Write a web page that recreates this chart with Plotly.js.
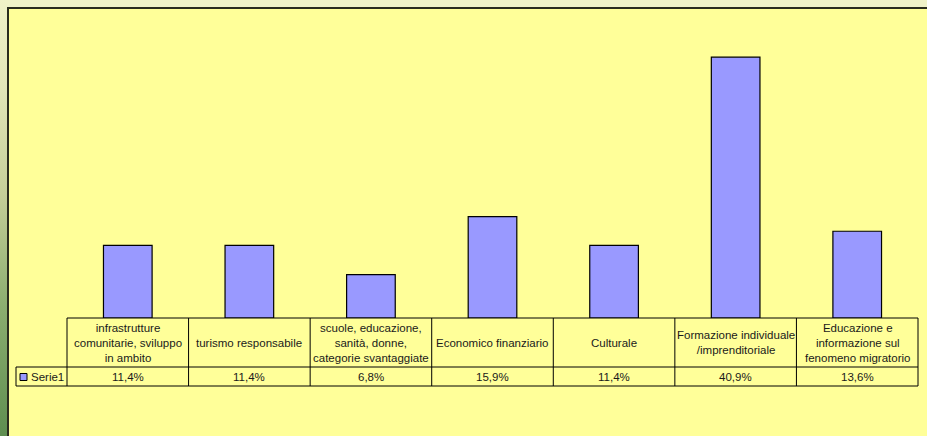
<!DOCTYPE html>
<html>
<head>
<meta charset="utf-8">
<script src="https://cdn.plot.ly/plotly-3.0.1.min.js"></script>
<style>
  html, body { margin: 0; padding: 0; }
  body { width: 927px; height: 436px; overflow: hidden; position: relative;
         background: #F0F2C8; }
  #leftstrip { position: absolute; left: 0; top: 0; width: 8px; height: 436px;
         background: linear-gradient(to bottom, #F0F2C8 0%, #E2E6B8 20%, #C4CE98 45%, #8CAE70 70%, #5E8E50 100%); }
  #frame { position: absolute; left: 7px; top: 7px; width: 925px; height: 434px;
         border-left: 2px solid #2A2C1E; border-top: 2px solid #2A2C1E; background: #FFFF99; }
  #chart { position: absolute; left: 9px; top: 9px; width: 918px; height: 427px; }
</style>
</head>
<body>
<div id="leftstrip"></div>
<div id="frame"></div>
<div id="chart"></div>
<script>
// ---- data ----
const categories = [
  "infrastrutture<br>comunitarie, sviluppo<br>in ambito",
  "turismo responsabile",
  "scuole, educazione,<br>sanità, donne,<br>categorie svantaggiate",
  "Economico finanziario",
  "Culturale",
  "Formazione individuale<br>/imprenditoriale",
  "Educazione e<br>informazione sul<br>fenomeno migratorio"
];
const values = [11.4, 11.4, 6.8, 15.9, 11.4, 40.9, 13.6];
const valueLabels = ["11,4%", "11,4%", "6,8%", "15,9%", "11,4%", "40,9%", "13,6%"];
const seriesName = "Serie1";

// ---- layout constants ----
const W = 918, H = 427;
const M = {l: 58, r: 9, t: 22, b: 118};
const plotW = W - M.l - M.r;   // 851
const plotH = H - M.t - M.b;   // 287
const n = categories.length;
const py = px => -px / plotH;          // pixels below plot bottom -> paper y
const pxX = px => px / plotW;          // pixels -> paper x

const headerBottom = py(49);
const rowBottom = py(68);
const legendLeft = pxX(-51);

const font = {family: "Liberation Sans, Arial, sans-serif", size: 11.5, color: "#1a1a1a"};
const lineStyle = {color: "#000000", width: 1};

const shapes = [];
// horizontal lines
shapes.push({type: "line", xref: "paper", yref: "paper", x0: 0, x1: 1, y0: 0, y1: 0, line: lineStyle});
shapes.push({type: "line", xref: "paper", yref: "paper", x0: legendLeft, x1: 1, y0: headerBottom, y1: headerBottom, line: lineStyle});
shapes.push({type: "line", xref: "paper", yref: "paper", x0: legendLeft, x1: 1, y0: rowBottom, y1: rowBottom, line: lineStyle});
// vertical lines
shapes.push({type: "line", xref: "paper", yref: "paper", x0: legendLeft, x1: legendLeft, y0: headerBottom, y1: rowBottom, line: lineStyle});
for (let i = 0; i <= n; i++) {
  const x = i / n;
  shapes.push({type: "line", xref: "paper", yref: "paper", x0: x, x1: x, y0: 0, y1: rowBottom, line: lineStyle});
}
// legend key
shapes.push({type: "rect", xref: "paper", yref: "paper",
  x0: pxX(-47), x1: pxX(-40), y0: py(55.5), y1: py(62.5),
  fillcolor: "#9999FF", line: {color: "#000000", width: 1}});

const annotations = [];
categories.forEach((c, i) => {
  annotations.push({xref: "x", yref: "paper", x: i, y: (0 + headerBottom) / 2,
    text: c, showarrow: false, xanchor: "center", yanchor: "middle", font: font, align: "center"});
  annotations.push({xref: "x", yref: "paper", x: i, y: (headerBottom + rowBottom) / 2,
    text: valueLabels[i], showarrow: false, xanchor: "center", yanchor: "middle", font: font});
});
annotations.push({xref: "paper", yref: "paper", x: pxX(-38), y: (headerBottom + rowBottom) / 2,
  text: seriesName, showarrow: false, xanchor: "left", yanchor: "middle", font: font});

const trace = {
  type: "bar",
  x: categories.map((_, i) => i),
  y: values,
  width: 0.4,
  marker: {color: "#9999FF", line: {color: "#000000", width: 1.2}},
  name: seriesName,
  hoverinfo: "y"
};

const layout = {
  width: W, height: H,
  margin: M,
  paper_bgcolor: "rgba(0,0,0,0)",
  plot_bgcolor: "rgba(0,0,0,0)",
  showlegend: false,
  xaxis: {range: [-0.5, n - 0.5], visible: false, fixedrange: true},
  yaxis: {range: [0, 45], visible: false, fixedrange: true},
  shapes: shapes,
  annotations: annotations,
  font: font
};

Plotly.newPlot("chart", [trace], layout, {displayModeBar: false, staticPlot: true});
</script>
</body>
</html>
